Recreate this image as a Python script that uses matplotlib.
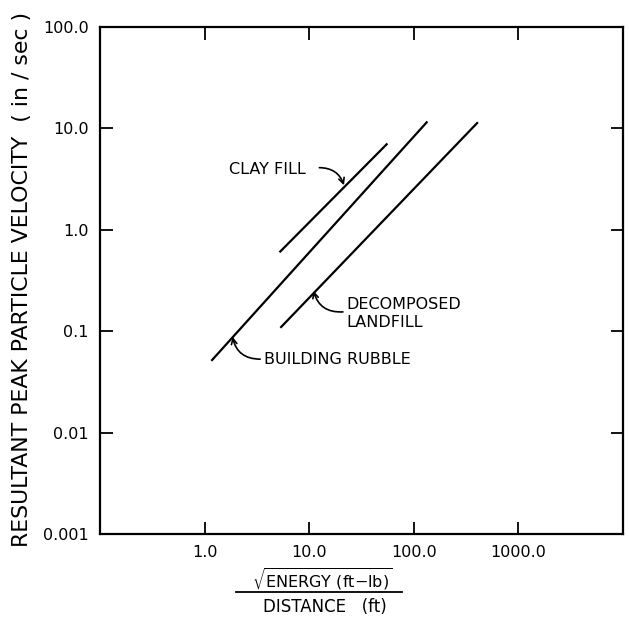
import matplotlib.pyplot as plt

# data (log-log)
clay_x = [5.2, 56.0]
clay_y = [0.6, 7.1]
rubble_x = [1.16, 135.0]
rubble_y = [0.051, 11.7]
landfill_x = [5.3, 410.0]
landfill_y = [0.108, 11.5]

xticks = [1, 10, 100, 1000]
xticklabels = ['1.0', '10.0', '100.0', '1000.0']
yticks = [0.001, 0.01, 0.1, 1, 10, 100]
yticklabels = ['0.001', '0.01', '0.1', '1.0', '10.0', '100.0']

plt.rcParams['font.family'] = 'DejaVu Sans'
plt.rcParams['mathtext.fontset'] = 'dejavusans'

fig = plt.figure(figsize=(6.29, 6.22), dpi=100)
ax = fig.add_axes([100 / 629, 1 - 534 / 622, 523 / 629, 507 / 622])

ax.plot(clay_x, clay_y, color='black', lw=1.6, solid_capstyle='butt')
ax.plot(rubble_x, rubble_y, color='black', lw=1.6, solid_capstyle='butt')
ax.plot(landfill_x, landfill_y, color='black', lw=1.6, solid_capstyle='butt')

ax.set_xscale('log')
ax.set_yscale('log')
ax.set_xlim(0.1, 10000)
ax.set_ylim(0.001, 100)
ax.set_xticks(xticks)
ax.set_xticklabels(xticklabels)
ax.set_yticks(yticks)
ax.set_yticklabels(yticklabels)
ax.minorticks_off()
ax.tick_params(direction='in', length=9, width=1.3, top=True, right=True,
               labelsize=11.5, pad=8)
for s in ax.spines.values():
    s.set_linewidth(1.6)

# annotations
tf = dict(fontsize=11.5, color='black')
ax.text(1.7, 3.9, 'CLAY FILL', ha='left', va='center', **tf)
ax.annotate('', xy=(21.5, 2.75), xytext=(12.5, 4.1),
            arrowprops=dict(arrowstyle='->', lw=1.2, color='black',
                            connectionstyle='arc3,rad=-0.35',
                            shrinkA=0, shrinkB=0))

ax.text(22.5, 0.15, 'DECOMPOSED\nLANDFILL', ha='left', va='center',
        linespacing=1.3, **tf)
ax.annotate('', xy=(11.0, 0.25), xytext=(21.0, 0.155),
            arrowprops=dict(arrowstyle='->', lw=1.2, color='black',
                            connectionstyle='arc3,rad=-0.4',
                            shrinkA=0, shrinkB=0))

ax.text(3.7, 0.053, 'BUILDING RUBBLE', ha='left', va='center', **tf)
ax.annotate('', xy=(1.85, 0.088), xytext=(3.4, 0.053),
            arrowprops=dict(arrowstyle='->', lw=1.2, color='black',
                            connectionstyle='arc3,rad=-0.4',
                            shrinkA=0, shrinkB=0))

# axis labels
fig.text(22 / 629, 1 - 547 / 622, 'RESULTANT PEAK PARTICLE VELOCITY  ( in / sec )',
         rotation=90, ha='center', va='bottom', fontsize=15.8)

fig.text(322 / 629, 1 - 580 / 622, r'$\sqrt{\mathrm{ENERGY\ (ft{-}lb)}}$',
         ha='center', va='center', fontsize=11.5)
fig.add_artist(plt.Line2D([236 / 629, 402 / 629], [1 - 592 / 622, 1 - 592 / 622],
                          color='black', lw=1.3))
fig.text(325 / 629, 1 - 607 / 622, 'DISTANCE   (ft)', ha='center', va='center',
         fontsize=12)

fig.savefig('out.png', dpi=100)
